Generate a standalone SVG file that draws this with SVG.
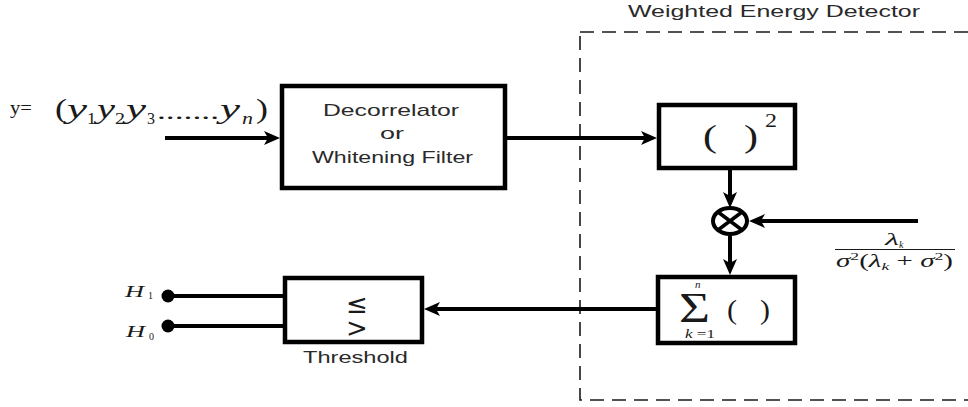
<svg xmlns="http://www.w3.org/2000/svg" width="968" height="407" viewBox="0 0 968 407">
<style>
.box{fill:#fff;stroke:#000;stroke-width:4.5}
.ln{fill:none;stroke:#000;stroke-width:4}
.lbl{font-family:"Liberation Sans",Arial,sans-serif;font-size:17px;fill:#2a2a2a}
.m{font-family:"Liberation Serif","Times New Roman",serif;fill:#1a1a1a}
.i{font-style:italic}
.dash{fill:none;stroke:#1a1a1a;stroke-width:1.6;stroke-dasharray:14 8}
</style>
<defs>
<marker id="ah" markerUnits="userSpaceOnUse" markerWidth="18" markerHeight="14" refX="10" refY="7" orient="auto">
<path d="M0,0 L16,7 L0,14 L4,7 z" fill="#000"/>
</marker>
</defs>
<rect width="968" height="407" fill="#fff"/>

<g id="detector-frame">
<rect class="dash" x="580" y="32" width="400" height="368"/>
<text class="lbl" x="628" y="17" textLength="292" lengthAdjust="spacingAndGlyphs">Weighted Energy Detector</text>
</g>

<g id="input-label">
<text class="m" x="10" y="114" font-size="18" textLength="22" lengthAdjust="spacingAndGlyphs">y=</text>
<text class="m" x="55" y="118" font-size="28" textLength="12" lengthAdjust="spacingAndGlyphs">(</text>
<text class="m i" x="67" y="118" font-size="28" textLength="20" lengthAdjust="spacingAndGlyphs">y</text>
<text class="m" x="87" y="124" font-size="16" textLength="9" lengthAdjust="spacingAndGlyphs">1</text>
<text class="m i" x="97" y="118" font-size="28" textLength="18" lengthAdjust="spacingAndGlyphs">y</text>
<text class="m" x="115" y="124" font-size="16" textLength="10" lengthAdjust="spacingAndGlyphs">2</text>
<text class="m i" x="126" y="118" font-size="28" textLength="20" lengthAdjust="spacingAndGlyphs">y</text>
<text class="m" x="147" y="124" font-size="16" textLength="8" lengthAdjust="spacingAndGlyphs">3</text>
<text class="m" x="157" y="119" font-size="22" textLength="62" lengthAdjust="spacingAndGlyphs">.......</text>
<text class="m i" x="220" y="118" font-size="28" textLength="20" lengthAdjust="spacingAndGlyphs">y</text>
<text class="m i" x="242" y="124" font-size="16" textLength="11" lengthAdjust="spacingAndGlyphs">n</text>
<text class="m" x="256" y="118" font-size="28" textLength="12" lengthAdjust="spacingAndGlyphs">)</text>
</g>

<g id="decorrelator">
<rect class="box" x="282" y="86" width="223" height="102"/>
<text class="lbl" x="323" y="116" textLength="136" lengthAdjust="spacingAndGlyphs">Decorrelator</text>
<text class="lbl" x="380" y="139" textLength="24" lengthAdjust="spacingAndGlyphs">or</text>
<text class="lbl" x="312" y="163" textLength="161" lengthAdjust="spacingAndGlyphs">Whitening Filter</text>
</g>

<g id="square">
<rect class="box" x="659" y="105" width="136" height="63"/>
<text class="m" x="703" y="147" font-size="32" textLength="14" lengthAdjust="spacingAndGlyphs">(</text>
<text class="m" x="744" y="147" font-size="32" textLength="14" lengthAdjust="spacingAndGlyphs">)</text>
<text class="m" x="765" y="127" font-size="18" textLength="12" lengthAdjust="spacingAndGlyphs">2</text>
</g>

<g id="multiplier">
<ellipse cx="730" cy="221" rx="17" ry="13" fill="#fff" stroke="#000" stroke-width="4"/>
<path d="M718,212 L742,230 M718,230 L742,212" stroke="#000" stroke-width="3.5"/>
</g>

<g id="weight-label">
<text class="m i" x="885" y="245" font-size="17" textLength="14" lengthAdjust="spacingAndGlyphs">λ</text>
<text class="m i" x="899" y="248" font-size="10">k</text>
<line x1="835" y1="249.5" x2="955" y2="249.5" stroke="#1a1a1a" stroke-width="1"/>
<text class="m" x="836" y="267" font-size="18" textLength="117" lengthAdjust="spacingAndGlyphs"><tspan class="i">σ</tspan><tspan font-size="11" dy="-7">2</tspan><tspan dy="7">(</tspan><tspan class="i">λ</tspan><tspan class="i" font-size="11" dy="3">k</tspan><tspan dy="-3"> + </tspan><tspan class="i">σ</tspan><tspan font-size="11" dy="-7">2</tspan><tspan dy="7">)</tspan></text>
</g>

<g id="summation">
<rect class="box" x="658" y="277" width="137" height="66"/>
<text class="m" x="679" y="322" font-size="42" textLength="31" lengthAdjust="spacingAndGlyphs">Σ</text>
<text class="m i" x="695" y="288" font-size="11">n</text>
<text class="m" x="685" y="338" font-size="12" textLength="30" lengthAdjust="spacingAndGlyphs"><tspan class="i">k</tspan> =1</text>
<text class="m" x="727" y="319" font-size="27" textLength="10" lengthAdjust="spacingAndGlyphs">(</text>
<text class="m" x="760" y="319" font-size="27" textLength="10" lengthAdjust="spacingAndGlyphs">)</text>
</g>

<g id="threshold">
<rect class="box" x="285" y="278" width="137" height="64"/>
<text x="357" y="313" text-anchor="middle" font-family="DejaVu Sans, sans-serif" font-size="26" fill="#1a1a1a">≤</text>
<text x="357" y="337" text-anchor="middle" font-family="DejaVu Sans, sans-serif" font-size="26" fill="#1a1a1a">&gt;</text>
<text class="lbl" x="303" y="363" textLength="105" lengthAdjust="spacingAndGlyphs">Threshold</text>
</g>

<g id="outputs">
<circle cx="168" cy="296" r="6.5" fill="#000"/>
<circle cx="168" cy="326" r="6.5" fill="#000"/>
<text class="m i" x="125" y="297" font-size="17" textLength="19" lengthAdjust="spacingAndGlyphs">H</text>
<text class="m" x="148" y="299" font-size="10">1</text>
<text class="m i" x="126" y="337" font-size="17" textLength="19" lengthAdjust="spacingAndGlyphs">H</text>
<text class="m" x="149" y="340" font-size="10">0</text>
</g>

<g id="connectors">
<path class="ln" d="M165,138 H274" marker-end="url(#ah)"/>
<path class="ln" d="M507,138 H651" marker-end="url(#ah)"/>
<path class="ln" d="M730,170 V202" marker-end="url(#ah)"/>
<path class="ln" d="M730,236 V269" marker-end="url(#ah)"/>
<path class="ln" d="M918,221 H755" marker-end="url(#ah)"/>
<path class="ln" d="M656,309 H430" marker-end="url(#ah)"/>
<path class="ln" d="M168,296 H283"/>
<path class="ln" d="M168,326 H283"/>
</g>
</svg>
